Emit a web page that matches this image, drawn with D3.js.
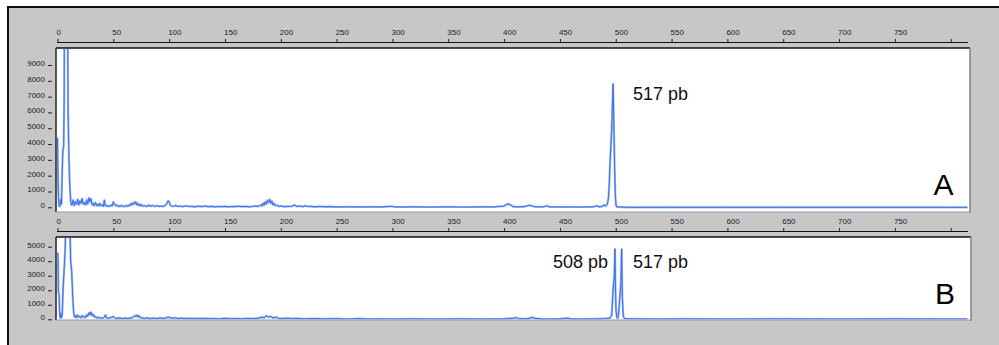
<!DOCTYPE html>
<html><head><meta charset="utf-8">
<script src="https://cdn.jsdelivr.net/npm/d3@7"></script>
<style>
html,body{margin:0;padding:0;background:#fff;}
svg{display:block;}
</style></head>
<body>
<svg id="chart" width="999" height="345"></svg>
<script>
// ---------- DATA ----------
const sizeTicks = [0,50,100,150,200,250,300,350,400,450,500,550,600,650,700,750,800];
const sizeTickLabels = ["0","50","100","150","200","250","300","350","400","450","500","550","600","650","700","750",""];
const yTicksA = [0,1000,2000,3000,4000,5000,6000,7000,8000,9000];
const yTicksB = [0,1000,2000,3000,4000,5000];

// Panel A trace (size in bp, signal in RFU)
const bpA = [0,0.4,0.8,1.3,2.0,2.6,3.0,3.6,4.2,4.8,5.5,6.0,6.1,7.5,9.2,9.5,10.0,10.6,11.2,11.8,12.5,
13,14,15,16,17,18,19,20,21,22,23,24,25,26,27,28,29,30,31,32,33,34,35,36,37,38,39,40,41,42,43,44,45,46,47,48,49,50,
51,52,53,54,55,56,57,58,59,60,62,63,64,65,66,67,68,69,70,71,72,73,74,75,76,77,78,80,82,83,85,87,89,91,93,95,97,98,99,100,
101,102,104,106,108,110,112,115,117,120,123,126,129,132,135,138,141,144,147,150,153,156,159,162,165,168,171,174,177,180,
182,183,184,185,186,187,188,189,190,191,192,193,194,195,196,198,200,203,206,209,211,212,213,214,217,220,222,224,227,230,
235,240,245,250,260,270,280,290,298,300,302,310,320,330,340,350,360,370,380,390,400,402,404,406,408,412,418,421,423,425,428,
435,439,440,450,460,470,480,483,485,488,489.5,491,492.5,493.5,494.2,495,496.4,497.6,498.1,499,499.6,500.2,501,510,550,600,650,700,750,800,815];
const valA = [4400,2000,800,100,50,300,500,200,2300,3600,3800,7000,10500,16000,10500,6000,4000,2200,1100,400,150,
150,450,100,350,200,500,150,400,250,550,200,300,150,450,200,600,350,550,150,250,100,300,100,200,80,250,100,150,60,450,80,120,50,100,60,150,80,350,
200,100,150,60,100,50,120,60,100,40,120,60,150,100,250,150,300,200,350,150,250,100,200,80,150,60,100,50,150,60,120,50,100,60,80,50,150,250,400,350,
150,80,60,120,50,80,40,100,50,60,30,70,40,80,40,60,30,50,40,60,30,50,40,70,40,60,30,50,80,60,
150,80,250,120,350,200,450,300,500,250,400,150,250,100,150,60,80,40,60,50,100,150,120,60,80,40,100,50,60,30,
50,30,40,20,30,20,30,20,60,50,20,20,30,20,20,30,20,20,30,20,80,180,200,150,40,30,40,100,130,80,30,
30,100,30,20,20,20,30,100,30,60,150,80,200,600,1500,3000,5000,7800,6000,2500,800,150,30,0,0,0,0,0,0,0,0];

// Panel B trace
const bpB = [0,0.4,0.8,1.4,2.0,2.4,3.0,3.5,4.2,5.0,6.0,6.8,7.3,9.0,11.2,11.8,12.7,13.4,14.0,14.6,15.2,
16,17,18,19,20,21,22,23,24,25,26,27,28,29,30,31,32,33,34,35,36,37,38,40,42,43,44,46,48,50,51,53,55,58,60,63,66,68,69,70,71,72,73,74,76,78,80,
83,86,89,92,95,98,100,102,105,108,111,115,120,125,130,135,140,145,150,155,160,165,170,175,180,183,185,187,189,191,193,196,198,
202,206,210,215,220,230,240,250,260,270,280,290,300,320,340,360,380,400,409,411,413,420,424,426,428,435,450,457,459,470,480,490,495,
496.4,497.8,498.7,499.3,499.8,500.2,501,501.7,502.5,503.8,504.6,505.3,505.9,506.8,508,520,540,560,600,650,700,750,800,815];
const valB = [4600,4500,1900,1700,300,100,400,100,300,2100,3500,4700,6000,9000,6000,4000,3300,2000,1000,400,150,
250,100,300,150,200,100,250,150,200,100,300,200,450,300,500,250,350,150,200,100,150,80,120,60,150,300,100,80,120,200,100,60,100,50,80,50,100,150,250,200,300,150,250,120,100,60,100,
50,80,50,100,60,120,150,80,100,50,80,50,70,40,60,40,50,30,60,40,50,30,60,40,80,150,100,250,150,200,100,150,60,
50,80,40,60,30,50,30,40,20,40,20,30,20,30,20,30,20,30,80,120,50,30,100,130,60,20,30,80,30,20,30,40,100,
300,2250,3000,4830,2000,650,150,70,300,1680,2500,4830,1500,180,40,30,20,30,20,30,20,30,20,20];

const labelsA = [{text:"517 pb", bp:517}];
const labelsB = [{text:"508 pb", bp:508},{text:"517 pb", bp:517}];

// ---------- LAYOUT ----------
const svg = d3.select("#chart");
const W = 999, H = 345;
const x = d3.scaleLinear().domain([0,800]).range([57.5,950.7]);
const panelA = {x0:56, x1:970, y0:48, y1:212};
const panelB = {x0:56, x1:971, y0:237, y1:320};
const yA = d3.scaleLinear().domain([0,9000]).range([207.3,65]);
const yB = d3.scaleLinear().domain([0,5000]).range([319.3,246.7]);
const tickFont = "'Liberation Sans', Arial, sans-serif";

// background frame
svg.append("rect").attr("x",8).attr("y",7).attr("width",W-8).attr("height",H-7).attr("fill","#c7c7c7");
svg.append("line").attr("x1",7).attr("x2",W).attr("y1",7).attr("y2",7).attr("stroke","#111").attr("stroke-width",2);
svg.append("line").attr("x1",8).attr("x2",8).attr("y1",6).attr("y2",H).attr("stroke","#111").attr("stroke-width",2);

function sizeAxis(yLine){
  const g = svg.append("g").attr("transform",`translate(0,${yLine})`);
  const ax = d3.axisTop(x).tickValues(sizeTicks).tickSize(3).tickSizeOuter(0)
    .tickFormat((d,i)=>sizeTickLabels[i]).tickPadding(4);
  g.call(ax);
  g.select(".domain").remove();
  g.selectAll(".tick line").attr("stroke","#222");
  g.selectAll(".tick text").attr("text-anchor","start").attr("dx","-1.5")
    .attr("fill","#222").style("font-family",tickFont).style("font-size","8px");
  g.append("line").attr("x1",57).attr("x2",968).attr("y1",0.5).attr("y2",0.5).attr("stroke","#111").attr("stroke-width",1);
}
sizeAxis(42);
sizeAxis(231);

function panel(p, yScale, yTicks, bp, val, id, labels, labelY, letter, letterX, letterY){
  // box
  svg.append("rect").attr("x",p.x0).attr("y",p.y0).attr("width",p.x1-p.x0).attr("height",p.y1-p.y0).attr("fill","#fff");
  svg.append("clipPath").attr("id",id).append("rect")
    .attr("x",p.x0+1).attr("y",p.y0+1).attr("width",p.x1-p.x0-2).attr("height",p.y1-p.y0-1.5);
  // y axis
  const g = svg.append("g").attr("transform",`translate(52,0)`);
  g.call(d3.axisLeft(yScale).tickValues(yTicks).tickSize(4).tickPadding(3).tickFormat(d3.format("d")));
  g.select(".domain").remove();
  g.selectAll(".tick line").attr("stroke","#222");
  g.selectAll(".tick text").attr("dy","0.05em").attr("fill","#222")
    .style("font-family",tickFont).style("font-size","8px");
  // trace
  const pts = bp.map((b,i)=>[b,val[i]]);
  const line = d3.line().x(d=>x(d[0])).y(d=>yScale(d[1]));
  const tg = svg.append("g").attr("clip-path",`url(#${id})`);
  tg.append("path").datum(pts).attr("d",line).attr("fill","none")
    .attr("stroke","#9cb8f6").attr("stroke-width",2.2).attr("stroke-linejoin","round");
  tg.append("path").datum(pts).attr("d",line).attr("fill","none")
    .attr("stroke","#3468e8").attr("stroke-width",0.9).attr("stroke-linejoin","round");
  // borders
  svg.append("line").attr("x1",p.x0).attr("x2",p.x1).attr("y1",p.y0).attr("y2",p.y0).attr("stroke","#111").attr("stroke-width",1.5);
  svg.append("line").attr("x1",p.x0).attr("x2",p.x0).attr("y1",p.y0).attr("y2",p.y1).attr("stroke","#222").attr("stroke-width",1.5);
  svg.append("line").attr("x1",p.x1).attr("x2",p.x1).attr("y1",p.y0).attr("y2",p.y1+1).attr("stroke","#808080").attr("stroke-width",1.5);
  svg.append("line").attr("x1",p.x0).attr("x2",p.x1).attr("y1",p.y1).attr("y2",p.y1).attr("stroke","#9a9a9a").attr("stroke-width",1);
  // labels
  labels.forEach(l=>{
    svg.append("text").attr("x",l.x).attr("y",labelY).text(l.text)
      .attr("fill","#111").style("font-family",tickFont).style("font-size","18px");
  });
  svg.append("text").attr("x",letterX).attr("y",letterY).text(letter)
    .attr("fill","#000").style("font-family",tickFont).style("font-size","30px");
}
panel(panelA, yA, yTicksA, bpA, valA, "clipA", [{text:labelsA[0].text, x:633}], 100, "A", 933.5, 195);
panel(panelB, yB, yTicksB, bpB, valB, "clipB", [{text:labelsB[0].text, x:553},{text:labelsB[1].text, x:633}], 268, "B", 935, 304);
</script>
</body></html>
